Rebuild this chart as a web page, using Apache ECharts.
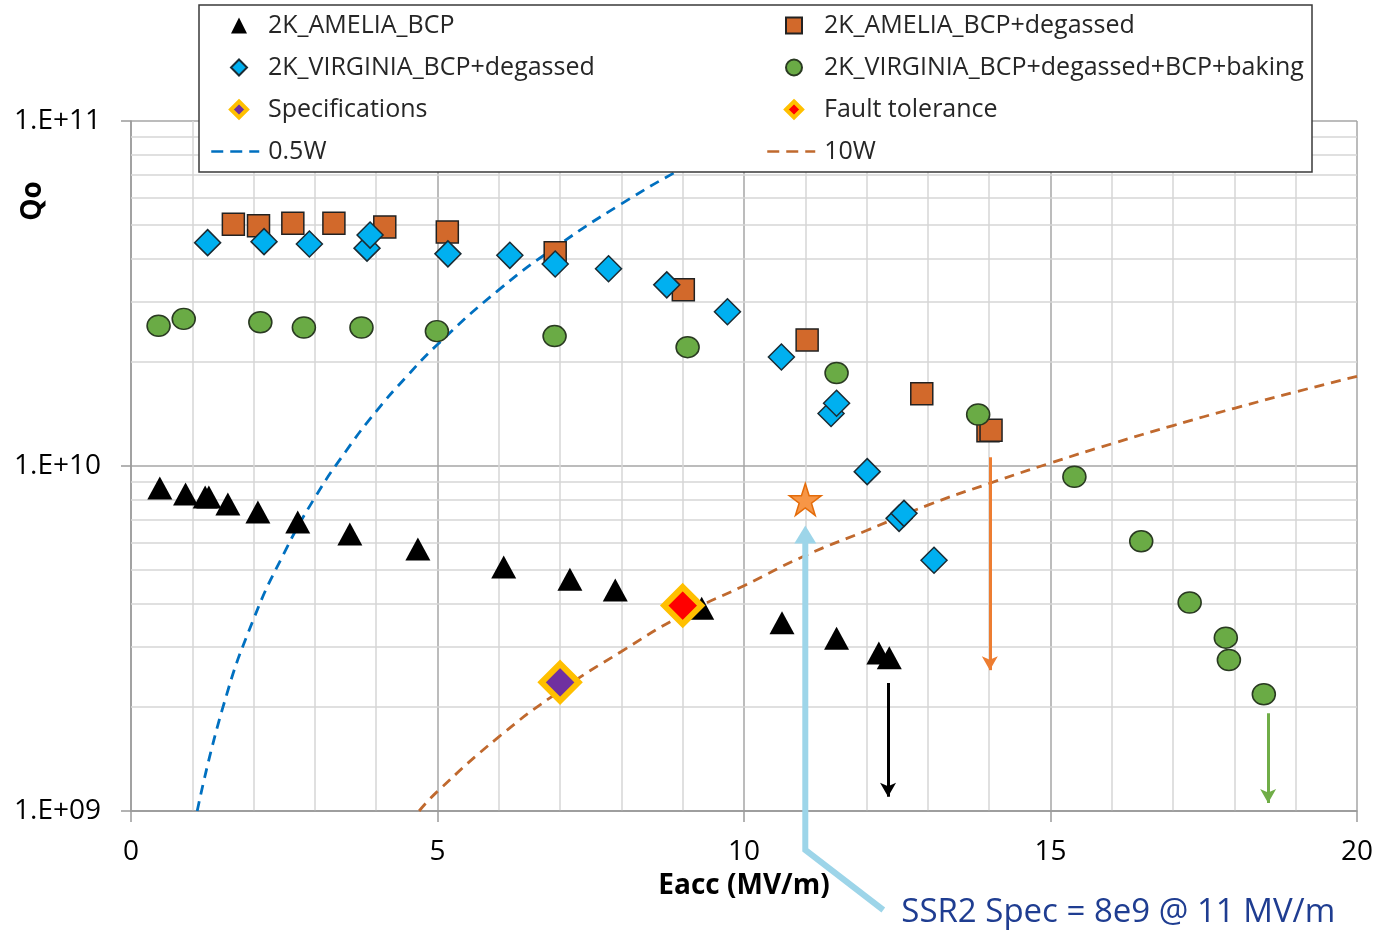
<!DOCTYPE html>
<html>
<head>
<meta charset="utf-8">
<title>Qo vs Eacc</title>
<script src="https://cdn.jsdelivr.net/npm/echarts@6/dist/echarts.min.js"></script>
<style>
  html, body { margin: 0; padding: 0; background: #fff; }
  #main { width: 1377px; height: 930px; }
</style>
</head>
<body>
<div id="main"></div>
<script>
// data: [Eacc (MV/m), Qo]
const ameliaBcp = [
  [0.47, 8.63e9], [0.89, 8.3e9], [1.21, 8.13e9], [1.27, 8.13e9], [1.58, 7.76e9],
  [2.07, 7.36e9], [2.72, 6.88e9], [3.57, 6.35e9], [4.68, 5.75e9], [6.08, 5.1e9],
  [7.16, 4.7e9], [7.90, 4.37e9], [9.31, 3.87e9], [10.62, 3.51e9], [11.51, 3.17e9],
  [12.20, 2.87e9], [12.37, 2.78e9]
];
const ameliaDegassed = [
  [1.67, 5.02e10], [2.08, 4.97e10], [2.64, 5.05e10], [3.31, 5.05e10], [4.14, 4.93e10],
  [5.16, 4.77e10], [6.92, 4.15e10], [9.01, 3.24e10], [11.03, 2.32e10], [12.90, 1.62e10],
  [13.98, 1.265e10], [14.03, 1.27e10]
];
const virginiaDegassed = [
  [1.25, 4.44e10], [2.17, 4.47e10], [2.91, 4.40e10], [3.85, 4.28e10], [3.90, 4.67e10],
  [5.17, 4.12e10], [6.18, 4.08e10], [6.92, 3.85e10], [7.79, 3.73e10], [8.74, 3.35e10],
  [9.73, 2.80e10], [10.61, 2.07e10], [11.42, 1.42e10], [11.51, 1.52e10], [12.01, 9.63e9],
  [12.53, 7.05e9], [12.61, 7.29e9], [13.10, 5.33e9]
];
const virginiaBaking = [
  [0.45, 2.55e10], [0.86, 2.67e10], [2.11, 2.61e10], [2.82, 2.52e10], [3.76, 2.52e10],
  [4.99, 2.46e10], [6.91, 2.38e10], [9.08, 2.21e10], [11.51, 1.86e10], [13.82, 1.41e10],
  [15.39, 9.31e9], [16.48, 6.05e9], [17.27, 4.02e9], [17.86, 3.18e9], [17.91, 2.74e9],
  [18.48, 2.18e9]
];
const specPoint = [[7.0, 2.36e9]];
const faultPoint = [[9.0, 3.94e9]];
const ssr2Spec = [[11, 8e9]];

// dissipated power curves
const curve05W = [
  [1.08, 1e9], [1.5, 2.0e9], [2, 3.6e9], [2.5, 5.6e9], [3, 8.1e9], [3.5, 1.1e10],
  [4, 1.44e10], [4.5, 1.82e10], [5, 2.25e10], [6, 3.24e10], [7, 4.4e10], [8, 5.75e10],
  [9, 7.3e10], [10, 9.0e10], [10.55, 1.0e11]
];
const curve10W = [
  [4.7, 1e9], [5, 1.14e9], [6, 1.64e9], [7, 2.23e9], [8, 2.9e9], [9, 3.7e9], [10, 4.5e9],
  [11, 5.5e9], [12, 6.5e9], [13, 7.7e9], [14, 8.9e9], [15, 1.02e10], [16, 1.16e10],
  [17, 1.31e10], [18, 1.47e10], [19, 1.64e10], [20, 1.82e10]
];

// quench arrows (Eacc, from Qo, to Qo)
const arrowE = [12.35, 14.01, 18.55];
const arrowFrom = [2.35e9, 1.06e10, 1.92e9];
const arrowTo = [1.1e9, 2.56e9, 1.055e9];
const arrowColors = ['#000000', '#ED7D31', '#70AD47'];

// minor log grid lines
const minorQ = [2e9, 3e9, 4e9, 5e9, 6e9, 7e9, 8e9, 9e9, 2e10, 3e10, 4e10, 5e10, 6e10, 7e10, 8e10, 9e10];

const FONT = '"Open Sans", "Noto Sans", sans-serif';
const STAR = 'path://M50,0 L61.8,35.1 L98.9,35.1 L68.8,56.9 L80.3,91.9 L50,70.2 L19.7,91.9 L31.2,56.9 L1.1,35.1 L38.2,35.1 Z';

const chart = echarts.init(document.getElementById('main'));

const legendText = {
  fontFamily: FONT,
  fontSize: 25,
  lineHeight: 27,
  color: '#262626'
};

var option = {
  animation: false,
  backgroundColor: '#fff',
  grid: {
    left: 131,
    right: 20,
    top: 121,
    bottom: 119,
    outerBoundsMode: 'none'
  },
  legend: [
    {
      // left column, markers
      orient: 'vertical',
      left: 229,
      top: 12,
      padding: 0,
      itemWidth: 16,
      itemHeight: 16,
      itemGap: 15,
      selectedMode: false,
      textStyle: Object.assign({ padding: [0, 0, 0, 16] }, legendText),
      data: [
        '2K_AMELIA_BCP',
        '2K_VIRGINIA_BCP+degassed',
        { name: 'Specifications', itemStyle: { borderWidth: 4 } }
      ]
    },
    {
      orient: 'vertical',
      left: 784,
      top: 12,
      padding: 0,
      itemWidth: 16,
      itemHeight: 16,
      itemGap: 15,
      selectedMode: false,
      textStyle: Object.assign({ padding: [0, 0, 0, 17] }, legendText),
      data: [
        '2K_AMELIA_BCP+degassed',
        '2K_VIRGINIA_BCP+degassed+BCP+baking',
        { name: 'Fault tolerance', itemStyle: { borderWidth: 4 } }
      ]
    },
    {
      orient: 'vertical',
      left: 210,
      top: 138,
      padding: 0,
      itemWidth: 48,
      itemHeight: 14,
      selectedMode: false,
      textStyle: Object.assign({ padding: [0, 0, 0, 4] }, legendText),
      data: [{
        name: '0.5W',
        itemStyle: { opacity: 0 },
        lineStyle: { color: '#0070C0', width: 2.5, type: [12, 7] }
      }]
    },
    {
      orient: 'vertical',
      left: 766,
      top: 138,
      padding: 0,
      itemWidth: 48,
      itemHeight: 14,
      selectedMode: false,
      textStyle: Object.assign({ padding: [0, 0, 0, 4] }, legendText),
      data: [{
        name: '10W',
        itemStyle: { opacity: 0 },
        lineStyle: { color: '#C0692E', width: 2.5, type: [12, 7] }
      }]
    }
  ],
  xAxis: {
    type: 'value',
    min: 0,
    max: 20,
    interval: 5,
    name: 'Eacc (MV/m)',
    nameLocation: 'middle',
    nameGap: 61,
    nameTextStyle: { fontFamily: FONT, fontSize: 28, fontWeight: 'bold', color: '#000' },
    axisLine: { show: true, lineStyle: { color: '#9a9a9a', width: 1.5 } },
    axisTick: { show: true, length: 11, lineStyle: { color: '#9a9a9a', width: 1.5 } },
    axisLabel: { fontFamily: FONT, fontSize: 28, color: '#000', margin: 27 },
    splitLine: { show: true, lineStyle: { color: '#a6a6a6', width: 1.5 } },
    minorTick: { show: false, splitNumber: 5 },
    minorSplitLine: { show: true, lineStyle: { color: '#d6d6d6', width: 1.5 } }
  },
  yAxis: {
    type: 'log',
    logBase: 10,
    min: 1e9,
    max: 1e11,
    axisLine: { show: true, lineStyle: { color: '#9a9a9a', width: 1.5 } },
    axisTick: { show: true, length: 10, lineStyle: { color: '#9a9a9a', width: 1.5 } },
    axisLabel: {
      fontFamily: FONT,
      fontSize: 28,
      color: '#000',
      margin: 30,
      formatter: function (v) {
        const e = Math.round(Math.log10(v));
        return '1.E+' + (e < 10 ? '0' + e : e);
      }
    },
    splitLine: { show: true, lineStyle: { color: '#a6a6a6', width: 1.5 } }
  },
  series: [
    {
      name: '0.5W',
      type: 'line',
      data: curve05W,
      smooth: true,
      symbol: 'none',
      z: 1,
      itemStyle: { color: '#0070C0' },
      lineStyle: { color: '#0070C0', width: 2.8, type: [10, 7] },
      markLine: {
        silent: true,
        z: 1,
        symbol: 'none',
        animation: false,
        label: { show: false },
        lineStyle: { color: '#d6d6d6', width: 1.5, type: 'solid' },
        data: minorQ.map(function (q) { return { yAxis: q }; })
      }
    },
    {
      name: '10W',
      type: 'line',
      data: curve10W,
      smooth: true,
      symbol: 'none',
      z: 1,
      itemStyle: { color: '#C0692E' },
      lineStyle: { color: '#C0692E', width: 2.8, type: [10, 7] }
    },
    {
      name: '2K_AMELIA_BCP',
      type: 'scatter',
      data: ameliaBcp,
      symbol: 'triangle',
      symbolSize: [25, 23],
      z: 3,
      itemStyle: { color: '#000', opacity: 1 },
      markLine: {
        silent: true,
        symbol: ['none', 'arrow'],
        symbolSize: [12, 14],
        animation: false,
        label: { show: false },
        data: arrowE.map(function (e, i) {
          return [
            { coord: [e, arrowFrom[i]], lineStyle: { color: arrowColors[i], width: 3, type: 'solid' } },
            { coord: [e, arrowTo[i]] }
          ];
        })
      }
    },
    {
      name: '2K_AMELIA_BCP+degassed',
      type: 'scatter',
      data: ameliaDegassed,
      symbol: 'rect',
      symbolSize: 22,
      z: 3,
      itemStyle: { color: '#D2692B', borderColor: '#222', borderWidth: 1.5, opacity: 1 }
    },
    {
      name: '2K_VIRGINIA_BCP+degassed',
      type: 'scatter',
      data: virginiaDegassed,
      symbol: 'diamond',
      symbolSize: 26,
      z: 3,
      itemStyle: { color: '#00B0F0', borderColor: '#1b2b33', borderWidth: 1.5, opacity: 1 }
    },
    {
      name: '2K_VIRGINIA_BCP+degassed+BCP+baking',
      type: 'scatter',
      data: virginiaBaking,
      symbol: 'circle',
      symbolSize: [23, 21],
      z: 3,
      itemStyle: { color: '#6AAB45', borderColor: '#2a3a22', borderWidth: 1.5, opacity: 1 }
    },
    {
      name: 'Specifications',
      type: 'scatter',
      data: specPoint,
      symbol: 'diamond',
      symbolSize: 37,
      z: 4,
      itemStyle: { color: '#7030A0', borderColor: '#FFC000', borderWidth: 6, opacity: 1 }
    },
    {
      name: 'Fault tolerance',
      type: 'scatter',
      data: faultPoint,
      symbol: 'diamond',
      symbolSize: 37,
      z: 4,
      itemStyle: { color: '#FF0000', borderColor: '#FFC000', borderWidth: 6, opacity: 1 }
    },
    {
      name: 'SSR2 Spec',
      type: 'scatter',
      data: ssr2Spec,
      symbol: STAR,
      symbolSize: 32,
      z: 4,
      itemStyle: { color: '#F79646', borderColor: '#E46C0A', borderWidth: 1.5, opacity: 1 }
    }
  ],
  graphic: [
    {
      id: 'legendBox',
      type: 'rect',
      z: 3,
      shape: { x: 199, y: 5, width: 1113, height: 167 },
      style: { fill: '#fff', stroke: '#3a3a3a', lineWidth: 1.5 }
    },
    {
      id: 'qo',
      type: 'text',
      x: 33,
      y: 201,
      rotation: Math.PI / 2,
      style: { text: 'Qo', align: 'center', verticalAlign: 'middle', font: 'bold 28px ' + FONT, fill: '#000' }
    }
  ]
};

chart.setOption(option);

// callout pointing at the SSR2 spec star
const p = chart.convertToPixel({ gridIndex: 0 }, ssr2Spec[0]);
const base = chart.convertToPixel({ gridIndex: 0 }, [ssr2Spec[0][0], 1e9]);
chart.setOption({
  graphic: [
    {
      id: 'calloutLine',
      type: 'polyline',
      z: 10,
      shape: { points: [[p[0], p[1] + 40], [p[0], base[1] + 39], [p[0] + 78, base[1] + 99]] },
      style: { stroke: '#9DD5E9', lineWidth: 6, fill: null }
    },
    {
      id: 'calloutHead',
      type: 'polygon',
      z: 10,
      shape: { points: [[p[0], p[1] + 26], [p[0] - 11, p[1] + 44], [p[0] + 11, p[1] + 44]] },
      style: { fill: '#9DD5E9' }
    },
    {
      id: 'calloutText',
      type: 'text',
      z: 10,
      x: p[0] + 96,
      y: base[1] + 102,
      style: {
        text: 'SSR2 Spec = 8e9 @ 11 MV/m',
        align: 'left',
        verticalAlign: 'middle',
        font: '33px ' + FONT,
        fill: '#1F3D91'
      }
    }
  ]
});
</script>
</body>
</html>
